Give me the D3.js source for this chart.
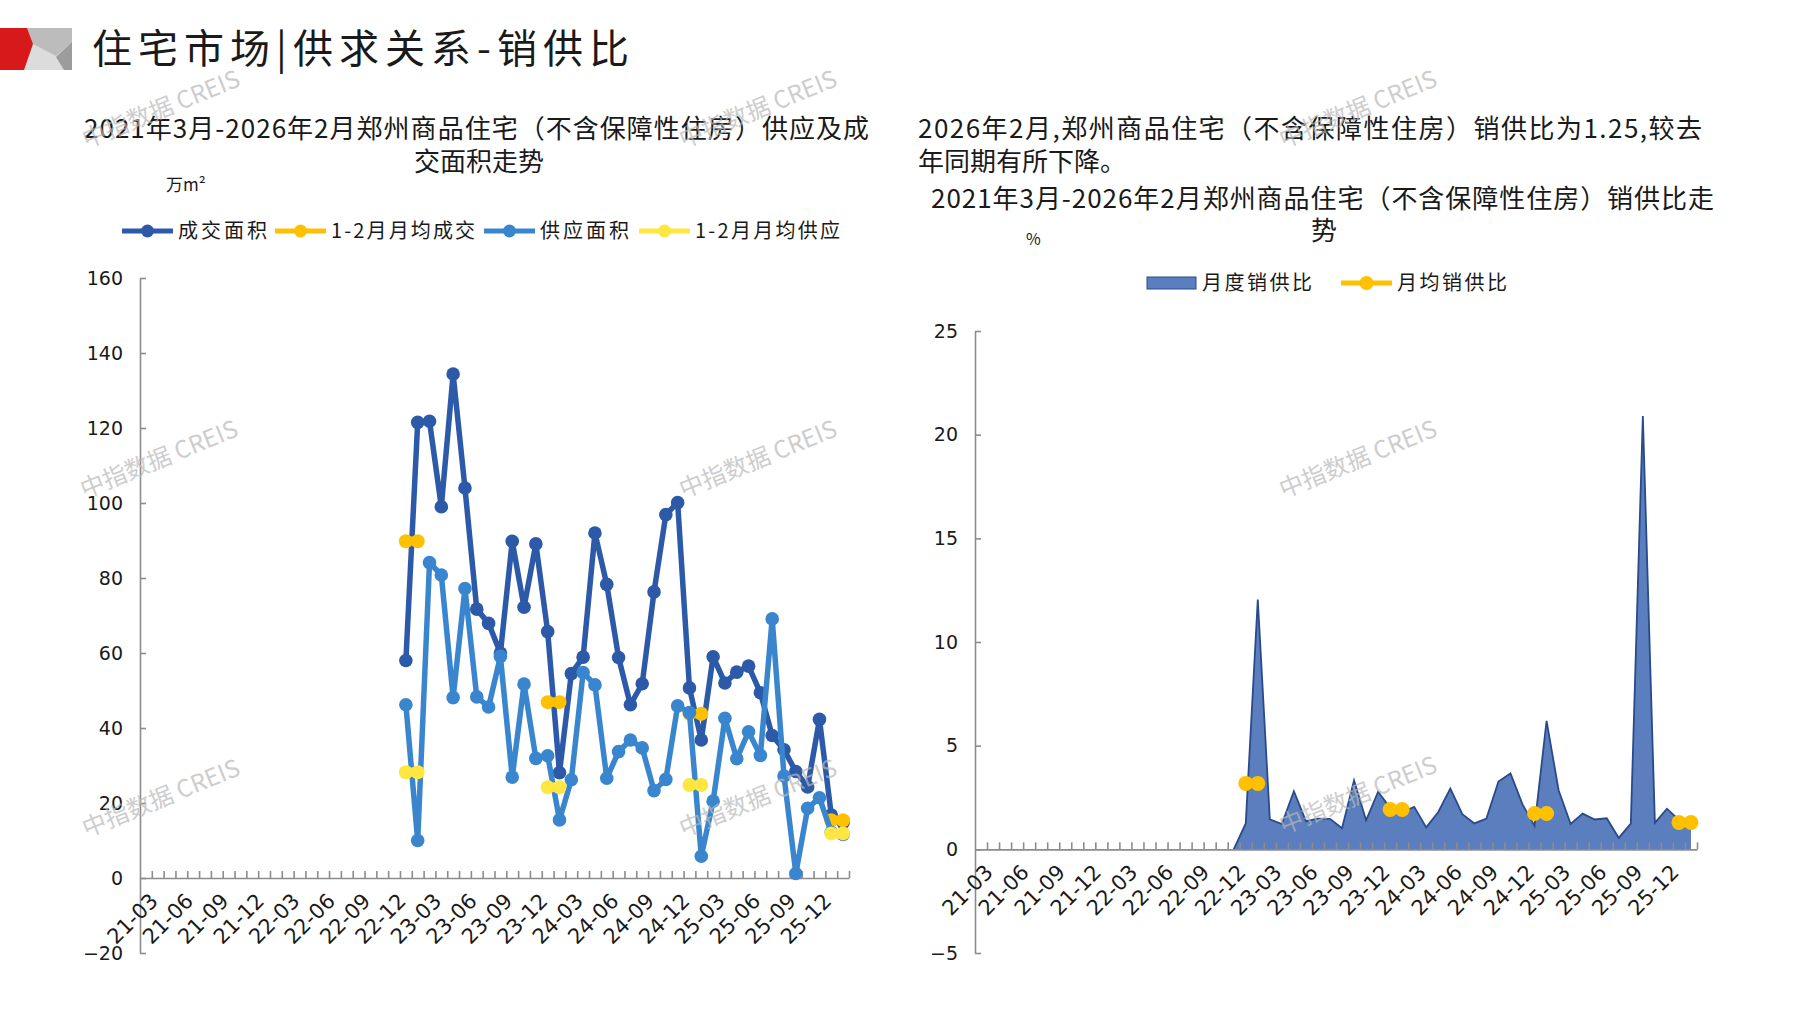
<!DOCTYPE html>
<html>
<head>
<meta charset="utf-8">
<script src="https://cdn.jsdelivr.net/npm/d3@7"></script>
<style>
body { margin: 0; background: #fff; }
text { font-family: "Noto Sans CJK SC", "Noto Sans", sans-serif; fill: #1a1a1a; }
.tick text, .num { font-family: "DejaVu Sans", "Liberation Sans", sans-serif; }
</style>
</head>
<body>
<svg id="chart" width="1797" height="1010"></svg>
<script>
// months on the category axis
var months = ["21-03","21-04","21-05","21-06","21-07","21-08","21-09","21-10","21-11","21-12",
  "22-01","22-02","22-03","22-04","22-05","22-06","22-07","22-08","22-09","22-10","22-11","22-12",
  "23-01","23-02","23-03","23-04","23-05","23-06","23-07","23-08","23-09","23-10","23-11","23-12",
  "24-01","24-02","24-03","24-04","24-05","24-06","24-07","24-08","24-09","24-10","24-11","24-12",
  "25-01","25-02","25-03","25-04","25-05","25-06","25-07","25-08","25-09","25-10","25-11","25-12",
  "26-01","26-02"];
var xTickLabels = ["21-03","21-06","21-09","21-12","22-03","22-06","22-09","22-12","23-03","23-06",
  "23-09","23-12","24-03","24-06","24-09","24-12","25-03","25-06","25-09","25-12"];

// series start at 23-01
var firstMonth = "23-01";
var dealArea = [58, 121.5, 121.8, 99, 134.4, 104, 71.7, 67.9, 60, 89.8, 72.2, 89.1,
  65.7, 28.1, 54.5, 58.9, 92, 78.3, 58.8, 46.2, 51.8, 76.3, 96.9, 100.1,
  50.7, 36.8, 59, 52, 54.9, 56.5, 49.4, 38, 34.2, 28.4, 24.3, 42.3,
  16.8, 14.8];
var supplyArea = [46.2, 10, 84.1, 80.8, 48.1, 77.2, 48.3, 45.6, 59.1, 26.9, 51.7, 31.9,
  32.6, 15.5, 26.2, 54.8, 51.5, 26.6, 33.7, 36.8, 34.7, 23.3, 26.3, 45.9,
  44.1, 5.8, 20.5, 42.6, 31.8, 39, 32.7, 69.1, 27.2, 1.2, 18.6, 21.4,
  12.2, 11.6];
var ratio = [1.25, 12.05, 1.45, 1.22, 2.8, 1.36, 1.48, 1.47, 1.02, 3.33, 1.4, 2.78,
  2.0, 1.8, 2.05, 1.06, 1.8, 2.93, 1.7, 1.25, 1.48, 3.27, 3.66, 2.17,
  1.13, 6.2, 2.85, 1.22, 1.72, 1.44, 1.5, 0.55, 1.24, 20.9, 1.28, 1.96,
  1.42, 1.25];

// Jan-Feb monthly averages
var avgMonths = [["23-01","23-02"],["24-01","24-02"],["25-01","25-02"],["26-01","26-02"]];
var avgDeal = [89.8, 46.9, 43.8, 15.4];
var avgSupply = [28.2, 24.2, 24.8, 11.9];
var avgRatio = [3.18, 1.92, 1.73, 1.3];

var leftTicks = [-20, 0, 20, 40, 60, 80, 100, 120, 140, 160];
var rightTicks = [-5, 0, 5, 10, 15, 20, 25];

var C_DEAL = "#2c5aa8", C_SUP = "#3a86ce", C_ORG = "#ffc000", C_YEL = "#ffe640";
var C_AREA = "#5b7ebe", C_AREA_LINE = "#2a4a8a", C_AXIS = "#8c8c8c";

var svg = d3.select("#chart");
var start = months.indexOf(firstMonth);
function series(vals) {
  return vals.map(function (v, i) { return {m: months[start + i], v: v}; });
}
function avgSeries(vals) {
  return vals.map(function (v, i) {
    return avgMonths[i].map(function (m) { return {m: m, v: v}; });
  });
}

// ---------- header ----------
svg.append("rect").attr("x", 24).attr("y", 28).attr("width", 48).attr("height", 42).attr("fill", "#dcdcdc");
svg.append("polygon").attr("points", "27,28 72,28 72,42 56,56 33,44").attr("fill", "#bcbcbc");
svg.append("polygon").attr("points", "72,42 72,70 64,70 56,57").attr("fill", "#9c9c9c");
svg.append("polygon").attr("points", "0,28 27,28 33,44 24,70 0,70").attr("fill", "#d7191c");

svg.append("text").attr("x", 92).attr("y", 63).attr("font-size", 40)
  .attr("textLength", 537).attr("lengthAdjust", "spacing")
  .text("住宅市场|供求关系-销供比");

// ---------- texts ----------
var T = 26;
svg.append("text").attr("x", 84).attr("y", 138).attr("font-size", T)
  .attr("textLength", 785).attr("lengthAdjust", "spacing")
  .text("2021年3月-2026年2月郑州商品住宅（不含保障性住房）供应及成");
svg.append("text").attr("x", 479).attr("y", 171).attr("font-size", T).attr("text-anchor", "middle")
  .text("交面积走势");
svg.append("text").attr("x", 166).attr("y", 191).attr("font-size", 17).text("万m²");

svg.append("text").attr("x", 918).attr("y", 138).attr("font-size", T)
  .attr("textLength", 784).attr("lengthAdjust", "spacing")
  .text("2026年2月,郑州商品住宅（不含保障性住房）销供比为1.25,较去");
svg.append("text").attr("x", 918).attr("y", 171).attr("font-size", T).text("年同期有所下降。");
svg.append("text").attr("x", 931).attr("y", 208).attr("font-size", T)
  .attr("textLength", 783).attr("lengthAdjust", "spacing")
  .text("2021年3月-2026年2月郑州商品住宅（不含保障性住房）销供比走");
svg.append("text").attr("x", 1324).attr("y", 240).attr("font-size", T).attr("text-anchor", "middle")
  .text("势");
svg.append("text").attr("x", 1026).attr("y", 245).attr("font-size", 16).text("%");

// ---------- left legend ----------
var leftLegend = [
  {name: "成交面积", c: C_DEAL, x: 122, w: 89},
  {name: "1-2月月均成交", c: C_ORG, x: 275, w: 144},
  {name: "供应面积", c: C_SUP, x: 484, w: 89},
  {name: "1-2月月均供应", c: C_YEL, x: 639, w: 145}
];
var lg = svg.append("g").selectAll("g").data(leftLegend).enter().append("g")
  .attr("transform", function (d) { return "translate(" + d.x + ",231)"; });
lg.append("line").attr("x1", 0).attr("x2", 51).attr("stroke", function (d) { return d.c; })
  .attr("stroke-width", 5);
lg.append("circle").attr("cx", 25.5).attr("r", 6.5).attr("fill", function (d) { return d.c; });
lg.append("text").attr("x", 56).attr("dy", "0.36em").attr("font-size", 20)
  .attr("textLength", function (d) { return d.w; }).attr("lengthAdjust", "spacing")
  .text(function (d) { return d.name; });

// ---------- left chart ----------
var xL = d3.scaleBand().domain(months).range([140, 849]);
var yL = d3.scaleLinear().domain([-20, 160]).range([953, 278]);
var xIdxL = d3.scaleLinear().domain([0, months.length]).range([140, 849]);

function styleAxis(g) {
  g.selectAll(".domain, line").attr("stroke", C_AXIS).attr("stroke-width", 1.6);
  g.selectAll("text").attr("fill", "#1a1a1a");
}

svg.append("g").attr("transform", "translate(140,0)")
  .call(d3.axisLeft(yL).tickValues(leftTicks).tickSize(-6).tickSizeOuter(0).tickPadding(17))
  .call(styleAxis)
  .selectAll("text").attr("font-size", 19);

function drawXAxis(xBand, xIdx, y0) {
  svg.append("g").attr("transform", "translate(0," + y0 + ")")
    .call(d3.axisTop(xIdx).tickValues(d3.range(1, months.length + 1)).tickSize(7).tickSizeOuter(0).tickFormat(""))
    .call(styleAxis);
  var lab = svg.append("g").attr("transform", "translate(0," + y0 + ")")
    .call(d3.axisBottom(xBand).tickValues(xTickLabels).tickSize(0));
  lab.select(".domain").remove();
  lab.selectAll("text").attr("font-size", 21).attr("text-anchor", "end")
    .attr("x", 0).attr("y", 0).attr("dy", "0.35em")
    .attr("transform", "translate(8,19) rotate(-45)");
}
drawXAxis(xL, xIdxL, yL(0));

var cxL = function (d) { return xL(d.m) + xL.bandwidth() / 2; };
var cyL = function (d) { return yL(d.v); };
var lineL = d3.line().x(cxL).y(cyL);

function drawSeries(data, color, r, width, line, cx, cy) {
  var g = svg.append("g");
  g.append("path").datum(data).attr("d", line).attr("fill", "none")
    .attr("stroke", color).attr("stroke-width", width).attr("stroke-linejoin", "round");
  g.selectAll("circle").data(data).enter().append("circle")
    .attr("cx", cx).attr("cy", cy).attr("r", r).attr("fill", color);
}

drawSeries(series(dealArea), C_DEAL, 6.8, 5.5, lineL, cxL, cyL);
avgSeries(avgDeal).forEach(function (s) { drawSeries(s, C_ORG, 7, 9, lineL, cxL, cyL); });
drawSeries(series(supplyArea), C_SUP, 6.8, 5.5, lineL, cxL, cyL);
avgSeries(avgSupply).forEach(function (s) { drawSeries(s, C_YEL, 7, 9, lineL, cxL, cyL); });

// ---------- right legend ----------
var rl = svg.append("g").attr("transform", "translate(1147,283)");
rl.append("rect").attr("x", 0).attr("y", -6).attr("width", 49).attr("height", 12)
  .attr("fill", C_AREA).attr("stroke", C_AREA_LINE).attr("stroke-width", 1);
rl.append("text").attr("x", 55).attr("dy", "0.36em").attr("font-size", 20)
  .attr("textLength", 110).attr("lengthAdjust", "spacing").text("月度销供比");
rl.append("line").attr("x1", 194).attr("x2", 245).attr("stroke", C_ORG).attr("stroke-width", 5);
rl.append("circle").attr("cx", 219.5).attr("r", 7).attr("fill", C_ORG);
rl.append("text").attr("x", 250).attr("dy", "0.36em").attr("font-size", 20)
  .attr("textLength", 110).attr("lengthAdjust", "spacing").text("月均销供比");

// ---------- right chart ----------
var xR = d3.scaleBand().domain(months).range([975, 1697]);
var yR = d3.scaleLinear().domain([-5, 25]).range([953, 331]);
var xIdxR = d3.scaleLinear().domain([0, months.length]).range([975, 1697]);
var cxR = function (d) { return xR(d.m) + xR.bandwidth() / 2; };
var cyR = function (d) { return yR(d.v); };

svg.append("g").attr("transform", "translate(975,0)")
  .call(d3.axisLeft(yR).tickValues(rightTicks).tickSize(-6).tickSizeOuter(0).tickPadding(17))
  .call(styleAxis)
  .selectAll("text").attr("font-size", 19);

// area: blanks before the first month count as zero (as in the source sheet)
var ratioData = [{m: months[start - 1], v: 0}].concat(series(ratio));
var areaR = d3.area().x(cxR).y0(yR(0)).y1(cyR);
svg.append("path").datum(ratioData).attr("d", areaR).attr("fill", C_AREA);
svg.append("path").datum(ratioData).attr("d", d3.line().x(cxR).y(cyR))
  .attr("fill", "none").attr("stroke", C_AREA_LINE).attr("stroke-width", 1.8);

drawXAxis(xR, xIdxR, yR(0));

var lineR = d3.line().x(cxR).y(cyR);
avgSeries(avgRatio).forEach(function (s) { drawSeries(s, C_ORG, 7.5, 9, lineR, cxR, cyR); });

// ---------- watermarks ----------
var marks = [[161, 109], [758, 109], [1358, 109], [159, 459], [758, 459], [1358, 459],
  [161, 798], [758, 798], [1358, 795]];
svg.append("g").selectAll("text").data(marks).enter().append("text")
  .attr("transform", function (d) { return "translate(" + d[0] + "," + d[1] + ") rotate(-22)"; })
  .attr("text-anchor", "middle").attr("dy", "0.35em").attr("font-size", 24)
  .style("fill", "#b8b8b8").attr("opacity", 0.7)
  .text("中指数据 CREIS");
</script>
</body>
</html>
